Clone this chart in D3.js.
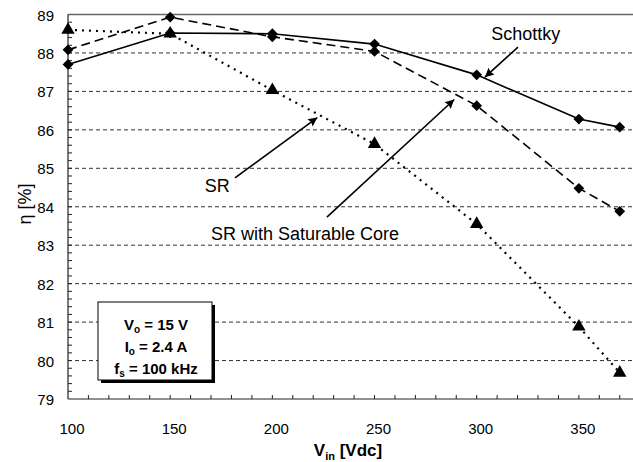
<!DOCTYPE html>
<html>
<head>
<meta charset="utf-8">
<script src="https://cdn.jsdelivr.net/npm/d3@7"></script>
<style>
  body { margin: 0; background: #fff; }
  svg { display: block; font-family: "Liberation Sans", Arial, sans-serif; }
</style>
</head>
<body>
<div id="chart"></div>
<script>
// input voltage points (Vdc)
var vin = [100, 150, 200, 250, 300, 350, 370];
// efficiency, %
var schottky = [87.7, 88.52, 88.5, 88.23, 87.43, 86.28, 86.07];
var srSat = [88.08, 88.93, 88.42, 88.04, 86.63, 84.48, 83.88];
var sr = [88.6, 88.5, 87.03, 85.63, 83.55, 80.88, 79.68];
var yTicks = [79, 80, 81, 82, 83, 84, 85, 86, 87, 88, 89];
var xTicks = [100, 150, 200, 250, 300, 350];

var width = 633, height = 462;
var x = d3.scaleLinear().domain([100, 376]).range([68, 632]);
var y = d3.scaleLinear().domain([79, 89]).range([399, 14.5]);

var svg = d3.select("#chart").append("svg")
    .attr("width", width)
    .attr("height", height);

var defs = svg.append("defs");
defs.append("marker")
    .attr("id", "head")
    .attr("viewBox", "0 0 10 10")
    .attr("refX", 10).attr("refY", 5)
    .attr("markerWidth", 15).attr("markerHeight", 9)
    .attr("markerUnits", "userSpaceOnUse")
    .attr("orient", "auto")
    .append("path")
    .attr("d", "M0,0 L10,5 L0,10 L1.5,5 z")
    .attr("fill", "#000");

// dashed grid lines
svg.append("g")
    .selectAll("line")
    .data(yTicks.filter(function (d) { return d > 79 && d < 89; }))
    .enter().append("line")
    .attr("x1", x(100)).attr("x2", width)
    .attr("y1", function (d) { return y(d); })
    .attr("y2", function (d) { return y(d); })
    .attr("stroke", "#333")
    .attr("stroke-width", 1)
    .attr("stroke-dasharray", "4,3");

// top border
svg.append("line")
    .attr("x1", x(100)).attr("x2", width)
    .attr("y1", y(89)).attr("y2", y(89))
    .attr("stroke", "#666").attr("stroke-width", 1.5);

// axes
svg.append("line")
    .attr("x1", x(100)).attr("x2", x(100))
    .attr("y1", y(89)).attr("y2", y(79))
    .attr("stroke", "#222").attr("stroke-width", 1.2);
svg.append("line")
    .attr("x1", x(100)).attr("x2", width)
    .attr("y1", y(79)).attr("y2", y(79))
    .attr("stroke", "#222").attr("stroke-width", 1.2);

// minor ticks
var xMinor = d3.range(110, 371, 10);
svg.append("g").selectAll("line").data(xMinor).enter().append("line")
    .attr("x1", function (d) { return x(d); })
    .attr("x2", function (d) { return x(d); })
    .attr("y1", y(79)).attr("y2", y(79) - 4)
    .attr("stroke", "#222");
var yMinor = d3.range(79.2, 89, 0.2);
svg.append("g").selectAll("line").data(yMinor).enter().append("line")
    .attr("x1", x(100)).attr("x2", x(100) + 4)
    .attr("y1", function (d) { return y(d); })
    .attr("y2", function (d) { return y(d); })
    .attr("stroke", "#222");

// tick labels
svg.append("g").selectAll("text").data(yTicks).enter().append("text")
    .attr("x", 54)
    .attr("y", function (d) { return y(d) + 6; })
    .attr("text-anchor", "end")
    .attr("font-size", 15)
    .text(function (d) { return d; });
svg.append("g").selectAll("text").data(xTicks).enter().append("text")
    .attr("x", function (d) { return x(d) + 4; })
    .attr("y", 434)
    .attr("text-anchor", "middle")
    .attr("font-size", 15)
    .text(function (d) { return d; });

// axis titles
var xt = svg.append("text")
    .attr("x", 348).attr("y", 456)
    .attr("text-anchor", "middle")
    .attr("font-size", 17).attr("font-weight", "bold");
xt.append("tspan").text("V");
xt.append("tspan").attr("font-size", 11).attr("dy", 4).text("in");
xt.append("tspan").attr("dy", -4).text(" [Vdc]");

svg.append("text")
    .attr("transform", "translate(31,204) rotate(-90)")
    .attr("text-anchor", "middle")
    .attr("font-size", 18)
    .text("\u03b7 [%]");

// series
var series = [
    { name: "Schottky", values: schottky, dash: null, width: 1.6, symbol: "diamond" },
    { name: "SR with Saturable Core", values: srSat, dash: "9,5", width: 1.6, symbol: "diamond" },
    { name: "SR", values: sr, dash: "2,5", width: 2.2, symbol: "triangle" }
];

var line = d3.line()
    .x(function (d) { return x(d[0]); })
    .y(function (d) { return y(d[1]); });

series.forEach(function (s) {
    var pts = vin.map(function (v, i) { return [v, s.values[i]]; });
    svg.append("path")
        .datum(pts)
        .attr("d", line)
        .attr("fill", "none")
        .attr("stroke", "#000")
        .attr("stroke-width", s.width)
        .attr("stroke-dasharray", s.dash);

    var sym = s.symbol === "diamond"
        ? d3.symbol().type(d3.symbolSquare).size(58)
        : d3.symbol().type(d3.symbolTriangle).size(78);
    svg.append("g").selectAll("path").data(pts).enter().append("path")
        .attr("d", sym)
        .attr("fill", "#000")
        .attr("transform", function (d) {
            var t = "translate(" + x(d[0]) + "," + y(d[1]) + ")";
            return s.symbol === "diamond" ? t + " rotate(45)" : t;
        });
});

// annotations, positioned in data units
var notes = [
    { text: "Schottky", tx: 324, ty: 88.33, from: [320.2, 88.15], to: [304.0, 87.37] },
    { text: "SR", tx: 173, ty: 84.38, from: [181.7, 84.75], to: [222.0, 86.32] },
    { text: "SR with Saturable Core", tx: 216, ty: 83.14, from: [226.7, 83.73], to: [289.0, 86.79] }
];
notes.forEach(function (n) {
    svg.append("text")
        .attr("x", x(n.tx)).attr("y", y(n.ty))
        .attr("text-anchor", "middle")
        .attr("font-size", 18)
        .text(n.text);
    svg.append("line")
        .attr("x1", x(n.from[0])).attr("y1", y(n.from[1]))
        .attr("x2", x(n.to[0])).attr("y2", y(n.to[1]))
        .attr("stroke", "#000").attr("stroke-width", 1.6)
        .attr("marker-end", "url(#head)");
});

// conditions box
var box = svg.append("g").attr("transform", "translate(98,302)");
box.append("rect").attr("x", 3).attr("y", 3).attr("width", 114).attr("height", 78).attr("fill", "#000");
box.append("rect").attr("width", 114).attr("height", 78)
    .attr("fill", "#fff").attr("stroke", "#000").attr("stroke-width", 1);
var lines = [["V", "o", " = 15 V"], ["I", "o", " = 2.4 A"], ["f", "s", " = 100 kHz"]];
lines.forEach(function (l, i) {
    var t = box.append("text")
        .attr("x", 58).attr("y", 28 + i * 22)
        .attr("text-anchor", "middle")
        .attr("font-size", 15).attr("font-weight", "bold");
    t.append("tspan").text(l[0]);
    t.append("tspan").attr("font-size", 10).attr("dy", 3).text(l[1]);
    t.append("tspan").attr("dy", -3).text(l[2]);
});
</script>
</body>
</html>
